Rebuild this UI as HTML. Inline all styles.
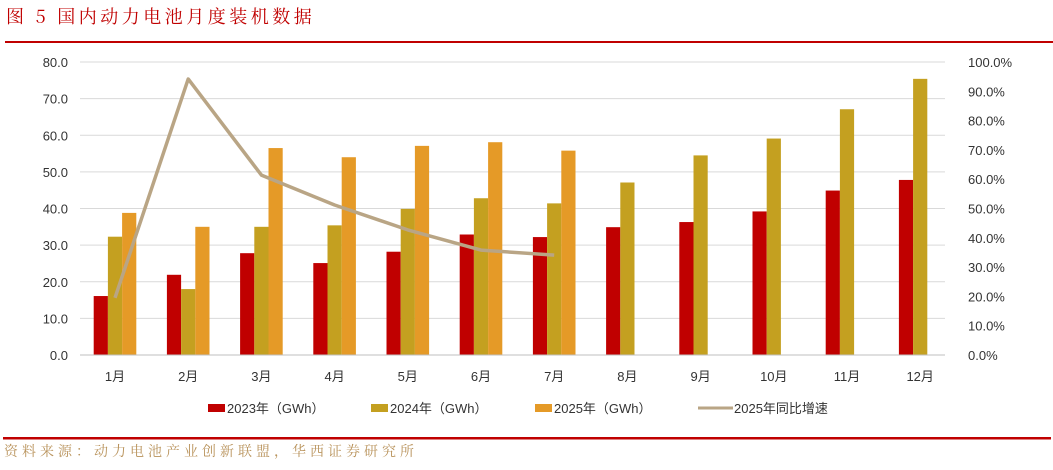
<!DOCTYPE html>
<html><head><meta charset="utf-8"><style>
body{margin:0;background:#fff;width:1053px;height:465px;overflow:hidden;font-family:"Liberation Sans","Noto Sans CJK SC",sans-serif}
</style></head><body>
<svg width="1053" height="465" style="font-family:'Liberation Sans','Noto Sans CJK SC',sans-serif">
<text x="6" y="23" fill="#c00000" font-size="18" letter-spacing="3.5" font-family="'Noto Serif CJK SC',serif">图 5  国内动力电池月度装机数据</text>
<rect x="5" y="41" width="1048" height="2" fill="#c00000"/>
<g id="grid"></g><g id="bars"></g><g id="line"></g><g id="axes"></g>
<g id="legend" font-size="13" fill="#333">
<rect x="208" y="404" width="17" height="8" fill="#c00000"/>
<text x="227" y="413">2023年（GWh）</text>
<rect x="371" y="404" width="17" height="8" fill="#c4a020"/>
<text x="390" y="413">2024年（GWh）</text>
<rect x="535" y="404" width="17" height="8" fill="#e59a27"/>
<text x="554" y="413">2025年（GWh）</text>
<line x1="698" y1="408" x2="733" y2="408" stroke="#b9a585" stroke-width="3"/>
<text x="734" y="413">2025年同比增速</text>
</g>
<rect x="3" y="437" width="1048" height="2.5" fill="#c00000"/>
<text x="4" y="456" fill="#b8925a" font-size="14" letter-spacing="4" font-family="'Noto Serif CJK SC',serif">资料来源：动力电池产业创新联盟，华西证券研究所</text>
</svg>
<script>
const categories=["1月","2月","3月","4月","5月","6月","7月","8月","9月","10月","11月","12月"];
const s2023=[16.1,21.9,27.8,25.1,28.2,32.9,32.2,34.9,36.3,39.2,44.9,47.8];
const s2024=[32.3,18.0,35.0,35.4,39.9,42.8,41.4,47.1,54.5,59.1,67.1,75.4];
const s2025=[38.8,35.0,56.5,54.0,57.1,58.1,55.8];
const yoy2025=[19.5,94.2,61.4,51.2,42.7,35.8,34.1];
const leftTicks=["0.0","10.0","20.0","30.0","40.0","50.0","60.0","70.0","80.0"];
const rightTicks=["0.0%","10.0%","20.0%","30.0%","40.0%","50.0%","60.0%","70.0%","80.0%","90.0%","100.0%"];
const NS="http://www.w3.org/2000/svg";
const y0=355,yTop=62;
const yL=v=>y0-v/80*(y0-yTop);
const yR=v=>y0-v/100*(y0-yTop);
const xC=i=>115+i*73.2;
function mk(t,a,p){const e=document.createElementNS(NS,t);for(const k in a)e.setAttribute(k,a[k]);document.getElementById(p).appendChild(e);return e;}
leftTicks.forEach((t,i)=>{const v=i*10;
 if(i>0){const g=mk('line',{x1:80,x2:945,y1:yL(v),y2:yL(v),stroke:'#d9d9d9','stroke-width':1},'grid');
 
 }
 const tx=mk('text',{x:68,y:yL(v)+5,'text-anchor':'end','font-size':13,fill:'#333'},'axes');tx.textContent=t;
 
 });
rightTicks.forEach((t,i)=>{const tx=mk('text',{x:968,y:yR(i*10)+5,'font-size':13,fill:'#333'},'axes');tx.textContent=t;
 
 });
const ax=mk('line',{x1:80,x2:945,y1:y0,y2:y0,stroke:'#bfbfbf'},'axes');


categories.forEach((c,i)=>{const tx=mk('text',{x:xC(i),y:381,'text-anchor':'middle','font-size':13,fill:'#333'},'axes');tx.textContent=c;
 
 });
const w=14.2;
[[s2023,'#c00000',-1.5,'2023'],[s2024,'#c4a020',-0.5,'2024'],[s2025,'#e59a27',0.5,'2025']].forEach(([s,col,off,n])=>{
 s.forEach((v,i)=>{const r=mk('rect',{x:xC(i)+off*w,y:yL(v),width:w,height:y0-yL(v),fill:col},'bars');
 
 });});
const pl=mk('polyline',{points:yoy2025.map((v,i)=>xC(i)+','+yR(v)).join(' '),fill:'none',stroke:'#b9a585','stroke-width':3.5,'stroke-linejoin':'round'},'line');


</script>
</body></html>
